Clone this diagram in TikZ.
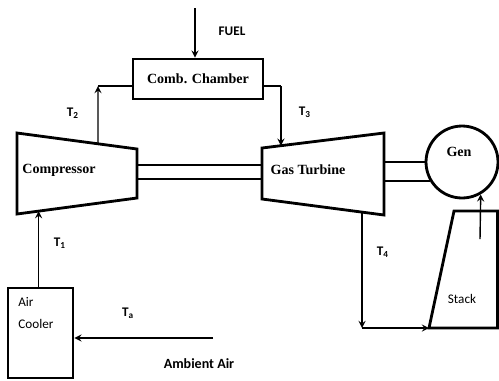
\documentclass[tikz,border=0pt]{standalone}
\usepackage{fontspec}
\setmainfont{Liberation Serif}
\newfontfamily\calibri{Carlito}
\usetikzlibrary{shapes,arrows,positioning,calc}

\begin{document}
\begin{tikzpicture}[
        x=0.02cm, y=-0.02cm,
        unit/.style={draw, line width=1.6pt, line join=miter},
        box/.style={draw, line width=1.6pt, inner sep=0pt},
        flow/.style={draw, line width=0.8pt, ->, >=stealth},
        pipe/.style={draw, line width=0.8pt},
        shaft/.style={draw, line width=1.2pt},
        unittxt/.style={font=\fontsize{8}{9}\selectfont\bfseries},
        flowtxt/.style={font=\fontsize{7.5}{9}\selectfont\calibri\bfseries},
        plaintxt/.style={font=\fontsize{7.5}{12.5}\selectfont\calibri, align=left}
    ]
        \useasboundingbox (0,0) rectangle (499,380);

        % Compressor
        \coordinate (c-tl) at (17,133);
        \coordinate (c-tr) at (137,149);
        \coordinate (c-br) at (137,198);
        \coordinate (c-bl) at (17,214);
        \draw[unit] (c-tl) -- (c-tr) -- (c-br) -- (c-bl) -- cycle;
        \node[unittxt] (comp) at (59,170) {Compressor};

        % Gas Turbine
        \coordinate (t-tl) at (262,148);
        \coordinate (t-tr) at (384,133);
        \coordinate (t-br) at (384,215);
        \coordinate (t-bl) at (262,199);
        \draw[unit] (t-tl) -- (t-tr) -- (t-br) -- (t-bl) -- cycle;
        \node[unittxt] (turb) at (308,170) {Gas Turbine};

        % Comb. Chamber
        \node[box, minimum width=2.6cm, minimum height=0.8cm, unittxt] (chamber) at (198,79) {Comb. Chamber\hspace{8pt}};

        % Generator
        \node[draw, circle, line width=1.6pt, minimum size=1.44cm, inner sep=0pt] (gen) at (462,162) {};
        \node[unittxt] (gentxt) at (459,152) {Gen};

        % Air Cooler
        \node[box, minimum width=1.3cm, minimum height=1.8cm] (cooler) at (40.5,333) {};
        \node[plaintxt, anchor=north west, inner sep=0pt] (coolertxt) at (18,297) {Air\\Cooler};

        % Stack
        \coordinate (s-bl) at (429,328);
        \coordinate (s-tl) at (454,211);
        \coordinate (s-tr) at (497.5,211);
        \coordinate (s-br) at (497.5,328);
        \draw[unit] (s-br) -- (s-bl) -- (s-tl) -- (s-tr) -- cycle;
        \node[plaintxt] (stacktxt) at (462,299) {Stack};

        % Shafts
        \draw[shaft] (c-tr |- 0,165) -- (t-tl |- 0,165);
        \draw[shaft] (c-tr |- 0,179) -- (t-tl |- 0,179);
        \draw[shaft] (t-tr |- gen.west) -- (gen.west);
        \draw[shaft] (t-tr |- gen.210) -- (gen.210);

        % Flow lines
        \coordinate (fuel) at (195,8);
        \draw[flow] (fuel) -- (fuel |- chamber.north);

        \coordinate (c-out) at ($(c-tl)!0.675!(c-tr)$);
        \coordinate (t2corner) at (98,86);
        \draw[flow] (c-out) -- (t2corner);
        \draw[pipe] (t2corner) -- (t2corner -| chamber.west);

        \coordinate (t-in) at ($(t-tl)!0.155!(t-tr)$);
        \coordinate (t3corner) at (t-in |- t2corner);
        \draw[pipe] (t3corner -| chamber.east) -- (t3corner);
        \draw[flow] (t3corner) -- (t-in);

        \coordinate (c-in) at ($(c-bl)!0.18!(c-br)$);
        \draw[flow] (cooler.north -| c-in) -- (c-in);

        \coordinate (amb) at (213,338);
        \draw[flow] (amb) -- (amb -| cooler.east);

        \coordinate (t-out) at ($(t-bl)!0.82!(t-br)$);
        \coordinate (t4corner) at (t-out |- s-bl);
        \draw[flow] (t-out) -- (t4corner);
        \draw[flow] (t4corner) -- (s-bl);

        \coordinate (s-up) at (480,239);
        \draw[flow] (s-up) -- (gen.-60);

        % Labels
        \node[flowtxt] (fuellbl) at (232,31) {FUEL};
        \node[flowtxt] (t1) at (60,243) {T\textsubscript{1}};
        \node[flowtxt] (t2) at (73,113) {T\textsubscript{2}};
        \node[flowtxt] (t3) at (305,112) {T\textsubscript{3}};
        \node[flowtxt] (t4) at (383,252) {T\textsubscript{4}};
        \node[flowtxt] (ta) at (128,313) {T\textsubscript{a}};
        \node[flowtxt, font=\fontsize{8}{9}\selectfont\calibri\bfseries] (amblbl) at (199,364) {Ambient Air};
    \end{tikzpicture}
\end{document}
